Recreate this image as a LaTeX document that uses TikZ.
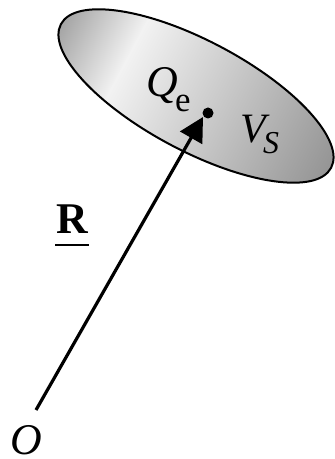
\documentclass[tikz,border=0pt]{standalone}
\usepackage{fontspec}
\setmainfont{Liberation Serif}
\usetikzlibrary{arrows.meta}
\tikzset{
  lbl/.style={inner sep=0pt, anchor=base west, font=\fontsize{44}{50}\selectfont},
  sublbl/.style={inner sep=0pt, anchor=base west, font=\fontsize{35}{40}\selectfont},
  vec/.style={line width=3.2bp, -{Triangle[length=24bp,width=25bp]}},
}
\begin{document}
\begin{tikzpicture}[x=1bp,y=1bp]
\useasboundingbox (0,0) rectangle (334,459);
% shaded ellipse
\begin{scope}[transform canvas={shift={(196bp,363bp)}, rotate=-28}]
  \clip (0,0) ellipse [x radius=153, y radius=55];
  \shade[left color=black!36, right color=black!5] (-154,-56) rectangle (-78,56);
  \shade[left color=black!5, right color=black!42] (-79,-56) rectangle (154,56);
\end{scope}
\draw[line width=2bp] (196,363) ellipse [x radius=153, y radius=55, rotate=-28];
% point and vector
\node[circle, fill, inner sep=0pt, minimum size=11bp] (dot) at (208,346) {};
\coordinate (start) at (36,49);
\coordinate (tip) at (203,342);
\draw[vec] (start) -- (tip);
% labels
\node[lbl] (Q) at (146,362) {\itshape Q};
\node[sublbl] (e) at (175,347) {e};
\node[lbl, font=\fontsize{42}{48}\selectfont] (V) at (240,316) {\itshape V};
\node[sublbl, font=\fontsize{32}{38}\selectfont] (S) at (263,305) {\itshape S};
\node[lbl] (R) at (56,225) {\bfseries R};
\draw[line width=2bp] ([shift={(-1,-11)}]R.base west) -- ([shift={(1,-11)}]R.base east);
\node[lbl] (O) at (10,4) {\itshape O};
\end{tikzpicture}
\end{document}
